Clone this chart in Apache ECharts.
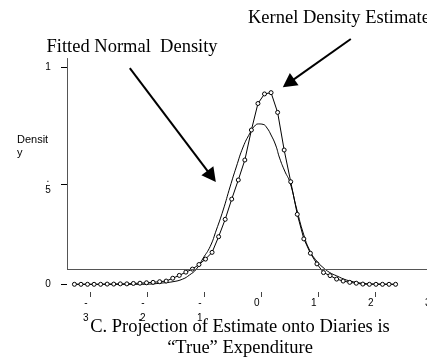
<!DOCTYPE html>
<html>
<head>
<meta charset="utf-8">
<script src="https://cdn.jsdelivr.net/npm/echarts@6/dist/echarts.min.js"></script>
<style>
    html, body {margin: 0; padding: 0; background: #fff;}
    #chart {width: 427px; height: 364px;}
</style>
</head>
<body>
<div id="chart"></div>
<script>
// kernel density estimate (line with circles)
const kdeX = [-3.27, -3.155, -3.04, -2.925, -2.81, -2.695, -2.58, -2.465, -2.35, -2.235,
    -2.12, -2.005, -1.89, -1.775, -1.66, -1.545, -1.43, -1.315, -1.2, -1.085,
    -0.97, -0.855, -0.74, -0.625, -0.51, -0.395, -0.28, -0.165, -0.05, 0.065,
    0.18, 0.295, 0.41, 0.525, 0.64, 0.755, 0.87, 0.985, 1.1, 1.215,
    1.33, 1.445, 1.56, 1.675, 1.79, 1.905, 2.02, 2.135, 2.25, 2.365];
const kdeY = [0, 0, 0, 0, 0, 0.001, 0.001, 0.002, 0.002, 0.004,
    0.005, 0.007, 0.009, 0.012, 0.015, 0.028, 0.041, 0.056, 0.070, 0.091,
    0.116, 0.147, 0.219, 0.299, 0.392, 0.480, 0.572, 0.710, 0.832, 0.876,
    0.882, 0.791, 0.618, 0.472, 0.322, 0.209, 0.143, 0.094, 0.054, 0.040,
    0.024, 0.015, 0.009, 0.005, 0.001, 0, 0, 0, 0, 0];

// fitted normal density (smooth line)
const normX = [-3.27, -2.65, -2.12, -1.95, -1.77, -1.54, -1.37, -1.25, -1.13, -1.01,
    -0.89, -0.78, -0.66, -0.54, -0.43, -0.31, -0.19, -0.11, -0.04, 0.04,
    0.11, 0.18, 0.26, 0.33, 0.42, 0.51, 0.63, 0.75, 0.86, 0.98,
    1.09, 1.21, 1.33, 1.50, 1.68, 1.85, 2.09, 2.37];
const normY = [0, 0, 0, 0.001, 0.005, 0.012, 0.024, 0.043, 0.070, 0.121,
    0.173, 0.250, 0.342, 0.448, 0.540, 0.632, 0.696, 0.728, 0.738, 0.736,
    0.719, 0.687, 0.641, 0.581, 0.521, 0.470, 0.346, 0.231, 0.155, 0.107,
    0.078, 0.054, 0.039, 0.020, 0.009, 0.003, 0.001, 0];

const xTickValues = [-3, -2, -1, 0, 1, 2, 3];
const xTickLabels = ['-\n3', '-\n2', '-\n1', '0', '1', '2', '3'];
const yTickValues = [0, 0.46, 1];
const yTickLabels = ['0', '.\n5', '1'];

const chart = echarts.init(document.getElementById('chart'), null, {renderer: 'canvas'});

const pairs = (xs, ys) => xs.map((x, i) => [x, ys[i]]);

const frameLine = 0.0704;   // bottom of the box
const frameTop = 1.041;

const option = {
    animation: false,
    backgroundColor: '#fff',
    grid: {left: 67, top: 10, width: 370.5, height: 282, outerBoundsMode: 'none'},
    xAxis: {
        type: 'value',
        min: -3.4,
        max: 3.1,
        splitLine: {show: false},
        axisLine: {show: false, onZero: false},
        axisTick: {
            customValues: xTickValues,
            length: 5,
            lineStyle: {color: '#444', width: 1}
        },
        axisLabel: {
            customValues: xTickValues,
            formatter: v => xTickLabels[xTickValues.indexOf(v)],
            margin: 4,
            fontSize: 10,
            lineHeight: 15,
            padding: [0, 8, 0, 0],
            color: '#000',
            fontFamily: 'Liberation Sans'
        }
    },
    yAxis: {
        type: 'value',
        min: -0.0354,
        max: 1.2623,
        splitLine: {show: false},
        axisLine: {show: false, onZero: false},
        axisTick: {
            customValues: yTickValues,
            length: 6,
            lineStyle: {color: '#000', width: 1}
        },
        axisLabel: {
            customValues: yTickValues,
            formatter: v => yTickLabels[yTickValues.indexOf(v)],
            align: 'center',
            margin: 19,
            fontSize: 10,
            lineHeight: 11,
            color: '#000',
            fontFamily: 'Liberation Sans'
        }
    },
    graphic: [
        {type: 'text', x: 248, y: 18.5, style: {text: 'Kernel Density Estimate', font: '18.5px "Liberation Serif"', fill: '#000', verticalAlign: 'middle'}},
        {type: 'text', x: 46.5, y: 47, style: {text: 'Fitted Normal  Density', font: '18.5px "Liberation Serif"', fill: '#000', verticalAlign: 'middle'}},
        {type: 'text', x: 17, y: 133.5, style: {text: 'Densit\ny', font: '11px "Liberation Sans"', lineHeight: 13, fill: '#000', verticalAlign: 'top'}},
        {type: 'text', x: 240, y: 327.5, style: {text: 'C. Projection of Estimate onto Diaries is', font: '18.5px "Liberation Serif"', fill: '#000', align: 'center', verticalAlign: 'middle'}},
        {type: 'text', x: 240, y: 348.5, style: {text: '\u201CTrue\u201D Expenditure', font: '18.5px "Liberation Serif"', fill: '#000', align: 'center', verticalAlign: 'middle'}}
    ],
    series: [
        {
            name: 'frame',
            type: 'line',
            data: [],
            markLine: {
                silent: true,
                symbol: 'none',
                label: {show: false},
                lineStyle: {color: '#555', width: 1, type: 'solid'},
                data: [
                    [{coord: [-3.4, frameLine]}, {coord: [-3.4, frameTop]}],
                    [{coord: [-3.4, frameLine]}, {coord: [3.1, frameLine]}]
                ]
            }
        },
        {
            name: 'arrows',
            type: 'line',
            data: [],
            markLine: {
                silent: true,
                symbol: ['none', 'triangle'],
                symbolSize: [15, 14],
                label: {show: false},
                lineStyle: {color: '#000', width: 2, type: 'solid'},
                data: [
                    [{coord: [-2.298, 0.995]}, {coord: [-0.863, 0.497]}],
                    [{coord: [1.579, 1.129]}, {coord: [0.486, 0.926]}]
                ]
            }
        },
        {
            name: 'Fitted Normal Density',
            type: 'line',
            data: pairs(normX, normY),
            smooth: true,
            showSymbol: false,
            lineStyle: {color: '#000', width: 1}
        },
        {
            name: 'Kernel Density Estimate',
            type: 'line',
            data: pairs(kdeX, kdeY),
            symbol: 'circle',
            symbolSize: 4,
            showAllSymbol: true,
            itemStyle: {color: '#fff', borderColor: '#000', borderWidth: 1},
            lineStyle: {color: '#000', width: 1}
        }
    ]
};

chart.setOption(option);
</script>
</body>
</html>
